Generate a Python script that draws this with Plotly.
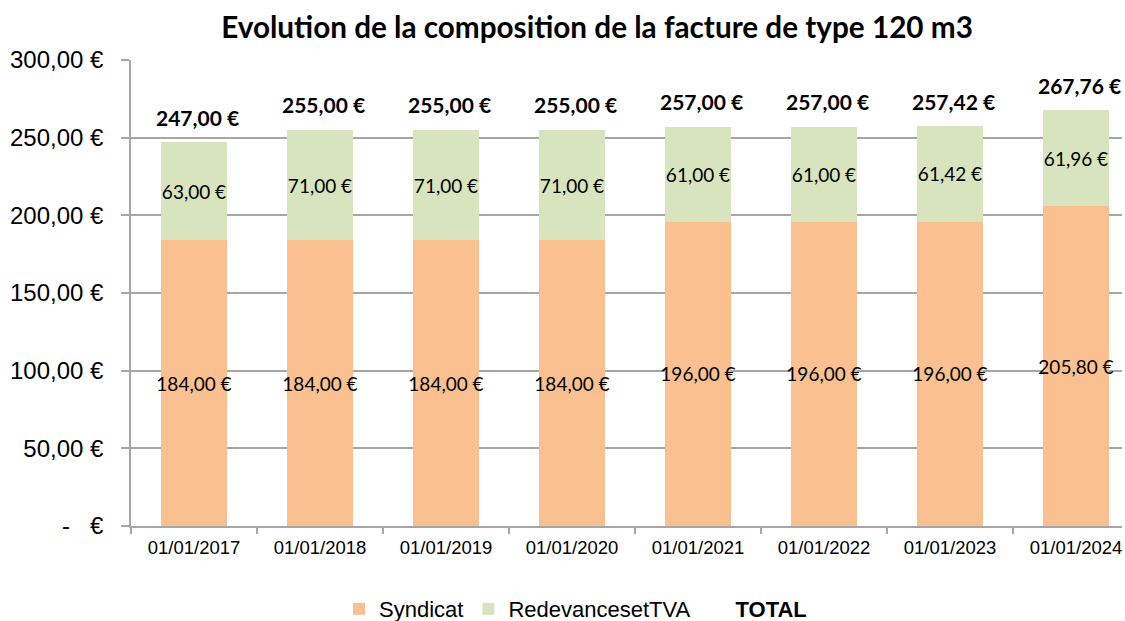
import plotly.graph_objects as go

categories = ["01/01/2017", "01/01/2018", "01/01/2019", "01/01/2020",
              "01/01/2021", "01/01/2022", "01/01/2023", "01/01/2024"]
syndicat = [184.00, 184.00, 184.00, 184.00, 196.00, 196.00, 196.00, 205.80]
redevances = [63.00, 71.00, 71.00, 71.00, 61.00, 61.00, 61.42, 61.96]
totals = [247.00, 255.00, 255.00, 255.00, 257.00, 257.00, 257.42, 267.76]
ytick_vals = [0, 50, 100, 150, 200, 250, 300]
ytick_text = ["-\u00a0\u00a0\u00a0€", "50,00 €", "100,00 €", "150,00 €",
              "200,00 €", "250,00 €", "300,00 €"]


def eur(v):
    return f"{v:,.2f}".replace(",", " ").replace(".", ",") + " €"


ORANGE = "#FAC090"
GREEN = "#D7E4BD"
GRID = "#A6A6A6"
LABEL_FONT = "Lato, 'Noto Sans', sans-serif"
AXIS_FONT = "'Liberation Sans', Arial, sans-serif"

fig = go.Figure()
fig.add_trace(go.Bar(
    x=categories, y=syndicat, name="Syndicat", marker_color=ORANGE,
    marker_line_width=0, width=0.516,
    text=[eur(v) for v in syndicat], textposition="inside",
    insidetextanchor="middle", constraintext="none", textangle=0,
    textfont=dict(family=LABEL_FONT, size=19, color="black"),
    hoverinfo="skip",
))
fig.add_trace(go.Bar(
    x=categories, y=redevances, name="RedevancesetTVA", marker_color=GREEN,
    marker_line_width=0, width=0.516,
    text=[eur(v) for v in redevances], textposition="inside",
    insidetextanchor="middle", constraintext="none", textangle=0,
    textfont=dict(family=LABEL_FONT, size=19, color="black"),
    hoverinfo="skip",
))
# legend entry for TOTAL (no visible symbol)
fig.add_trace(go.Scatter(
    x=categories, y=totals, name="<b>TOTAL</b>", mode="lines",
    line=dict(color="rgba(0,0,0,0)", width=0), hoverinfo="skip",
))

for c, t in zip(categories, totals):
    fig.add_annotation(
        x=c, y=t, text=f"<b>{eur(t)}</b>", showarrow=False,
        yshift=25, xshift=3, xref="x", yref="y",
        font=dict(family=LABEL_FONT, size=21, color="black"),
    )

fig.update_layout(
    barmode="stack",
    width=1125, height=621,
    margin=dict(l=131, r=3, t=60, b=95, autoexpand=False),
    paper_bgcolor="white", plot_bgcolor="white",
    title=dict(
        text="<b>Evolution de la composition de la facture de type 120 m3</b>",
        x=597 / 1125, xanchor="center", y=1 - 28 / 621, yanchor="middle",
        font=dict(family=LABEL_FONT, size=29.7, color="black"),
    ),
    legend=dict(
        orientation="h", xref="container", yref="container",
        x=339 / 1125, xanchor="left", y=1 - 609 / 621, yanchor="middle",
        font=dict(family=AXIS_FONT, size=22, color="black"),
        itemwidth=30, traceorder="normal",
    ),
    showlegend=True,
)
fig.update_xaxes(
    type="category", range=[-0.5, -0.5 + 991 / 126], automargin=False,
    showline=True, linecolor=GRID, linewidth=1.5,
    ticks="outside", tickson="boundaries", ticklen=6, tickcolor=GRID,
    tickwidth=1.5, showgrid=False, ticklabelstandoff=4,
    tickfont=dict(family=AXIS_FONT, size=18.5, color="black"),
)
fig.update_yaxes(
    range=[0, 300], tickvals=ytick_vals, ticktext=ytick_text, automargin=False,
    showline=True, linecolor=GRID, linewidth=1.5,
    ticks="outside", ticklen=8, tickcolor=GRID, tickwidth=1.5,
    showgrid=True, gridcolor=GRID, gridwidth=1.5, zeroline=False,
    ticklabelstandoff=13,
    tickfont=dict(family=AXIS_FONT, size=24, color="black"),
)

fig.write_html(
    "out.html",
    config={"displayModeBar": False},
    post_script="document.body.style.margin='0';document.body.style.overflow='hidden';",
)
